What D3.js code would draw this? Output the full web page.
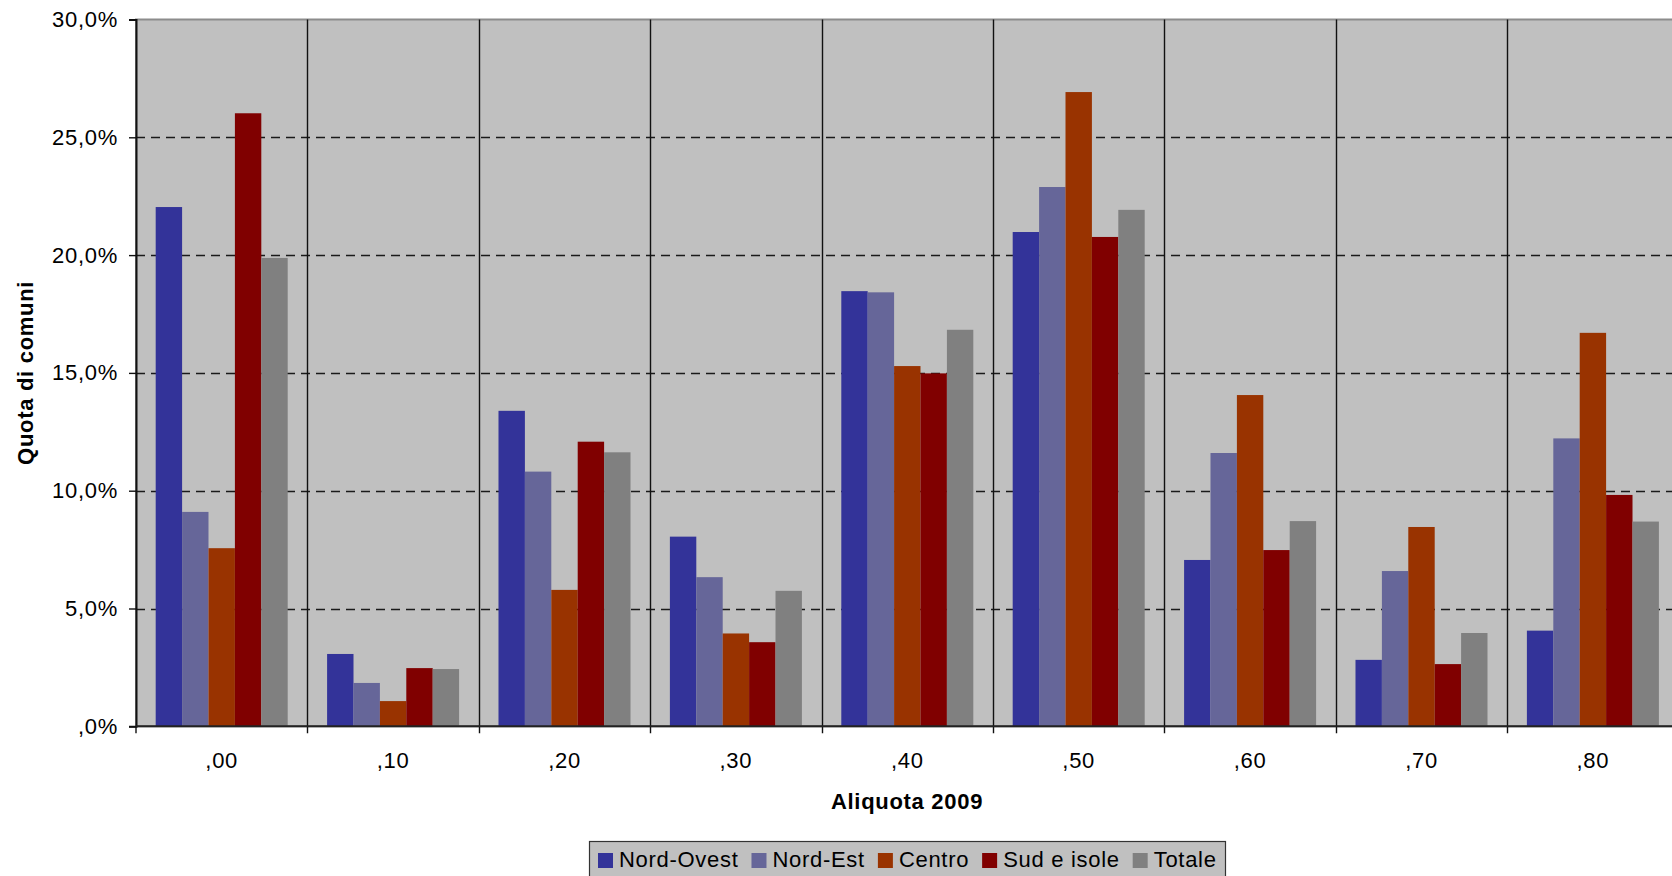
<!DOCTYPE html>
<html>
<head>
<meta charset="utf-8">
<script src="https://cdn.jsdelivr.net/npm/d3@7"></script>
<style>
  html, body { margin: 0; padding: 0; background: #fff; overflow: hidden; }
  svg { display: block; }
  text { font-family: "Liberation Sans", Arial, sans-serif; fill: #000; letter-spacing: 0.7px; }
</style>
</head>
<body>
<svg id="chart" width="1672" height="876"></svg>
<script>
// Aliquote and regional shares of municipalities (%)
const categories = [",00", ",10", ",20", ",30", ",40", ",50", ",60", ",70", ",80"];
const seriesNames = ["Nord-Ovest", "Nord-Est", "Centro", "Sud e isole", "Totale"];
const seriesColors = ["#333399", "#666699", "#993300", "#800000", "#808080"];

const nordOvest = [22.04, 3.07, 13.39, 8.05, 18.47, 20.98, 7.06, 2.82, 4.06];
const nordEst   = [9.10, 1.84, 10.81, 6.33, 18.42, 22.89, 11.60, 6.59, 12.22];
const centro    = [7.56, 1.07, 5.79, 3.94, 15.29, 26.92, 14.06, 8.46, 16.70];
const sudIsole  = [26.02, 2.47, 12.08, 3.57, 14.98, 20.77, 7.48, 2.64, 9.82];
const totale    = [19.88, 2.43, 11.63, 5.75, 16.83, 21.92, 8.71, 3.96, 8.69];

const yTickValues = [0, 5, 10, 15, 20, 25, 30];
const yTickLabels = [",0%", "5,0%", "10,0%", "15,0%", "20,0%", "25,0%", "30,0%"];

const seriesValues = [nordOvest, nordEst, centro, sudIsole, totale];

const svg = d3.select("#chart");

// Plot area geometry; the last category runs past the right edge
const plotLeft = 136, plotTop = 19.5, plotBottom = 726.3;
const catWidth = 171.4;
const plotRight = plotLeft + catWidth * categories.length;

const x = d3.scaleBand().domain(categories).range([plotLeft, plotRight]).padding(0);
const xInner = d3.scaleBand().domain(seriesNames).range([0, x.bandwidth()])
  .paddingInner(0).paddingOuter(0.746);
const y = d3.scaleLinear().domain([0, 30]).range([plotBottom, plotTop]);

// Plot background
svg.append("rect")
  .attr("x", plotLeft).attr("y", plotTop)
  .attr("width", plotRight - plotLeft).attr("height", plotBottom - plotTop)
  .attr("fill", "#C0C0C0")
  .attr("stroke", "#8c8c8c").attr("stroke-width", 2);

// Dashed horizontal gridlines
svg.append("g").selectAll("line")
  .data(yTickValues.filter(v => v > 0 && v < 30))
  .join("line")
  .attr("x1", plotLeft).attr("x2", plotRight)
  .attr("y1", d => Math.round(y(d)) + 0.5).attr("y2", d => Math.round(y(d)) + 0.5)
  .attr("stroke", "#1a1a1a").attr("stroke-width", 1.4)
  .attr("stroke-dasharray", "9,6");

// Solid separators between categories
svg.append("g").selectAll("line")
  .data(categories.slice(1))
  .join("line")
  .attr("x1", d => Math.round(x(d)) + 0.5).attr("x2", d => Math.round(x(d)) + 0.5)
  .attr("y1", plotTop).attr("y2", plotBottom + 7)
  .attr("stroke", "#111").attr("stroke-width", 1.4);

// Bars
const barData = [];
categories.forEach((c, i) => {
  seriesNames.forEach((s, j) => {
    barData.push({ cat: c, series: s, value: seriesValues[j][i], color: seriesColors[j] });
  });
});
svg.append("g").selectAll("rect")
  .data(barData)
  .join("rect")
  .attr("x", d => x(d.cat) + xInner(d.series))
  .attr("width", xInner.bandwidth())
  .attr("y", d => y(d.value))
  .attr("height", d => y(0) - y(d.value))
  .attr("fill", d => d.color);

// Y axis
const yAxis = d3.axisLeft(y)
  .tickValues(yTickValues)
  .tickFormat((d, i) => yTickLabels[i])
  .tickSize(7).tickPadding(11);
const gy = svg.append("g").attr("transform", `translate(${plotLeft},0)`).call(yAxis);
gy.select(".domain").attr("stroke", "#111").attr("stroke-width", 2);
gy.selectAll(".tick line").attr("stroke", "#111").attr("stroke-width", 1.4);
gy.selectAll(".tick text")
  .style("font-size", "22px")
  .style("font-family", "'Liberation Sans', Arial, sans-serif")
  .attr("fill", "#000");

// X axis: labels at category centres
const xAxis = d3.axisBottom(x).tickSize(0).tickPadding(26);
const gx = svg.append("g").attr("transform", `translate(0,${plotBottom})`).call(xAxis);
gx.select(".domain").remove();
gx.selectAll(".tick text")
  .style("font-size", "22px")
  .style("font-family", "'Liberation Sans', Arial, sans-serif")
  .attr("fill", "#000");

svg.append("line")
  .attr("x1", plotLeft).attr("x2", plotRight)
  .attr("y1", plotBottom).attr("y2", plotBottom)
  .attr("stroke", "#222").attr("stroke-width", 2);
svg.append("line")
  .attr("x1", plotLeft).attr("x2", plotLeft)
  .attr("y1", plotBottom).attr("y2", plotBottom + 7)
  .attr("stroke", "#111").attr("stroke-width", 1.4);

// Axis titles
svg.append("text")
  .attr("x", 907).attr("y", 809)
  .attr("text-anchor", "middle")
  .style("font-size", "22px").style("font-weight", "bold")
  .text("Aliquota 2009");

svg.append("text")
  .attr("transform", `translate(33,${(plotTop + plotBottom) / 2}) rotate(-90)`)
  .attr("text-anchor", "middle")
  .style("font-size", "22px").style("font-weight", "bold")
  .text("Quota di comuni");

// Legend
const legend = svg.append("g");
const legendBox = legend.append("rect")
  .attr("x", 589.5).attr("y", 841.5)
  .attr("width", 636).attr("height", 50)
  .attr("fill", "#C0C0C0").attr("stroke", "#333").attr("stroke-width", 1.2);
let lx = 598;
seriesNames.forEach((s, j) => {
  legend.append("rect")
    .attr("x", lx).attr("y", 853).attr("width", 15).attr("height", 15)
    .attr("fill", seriesColors[j]);
  const t = legend.append("text")
    .attr("x", lx + 21).attr("y", 867)
    .style("font-size", "22px")
    .text(s);
  lx += 21 + t.node().getComputedTextLength() + 13;
});
</script>
</body>
</html>
